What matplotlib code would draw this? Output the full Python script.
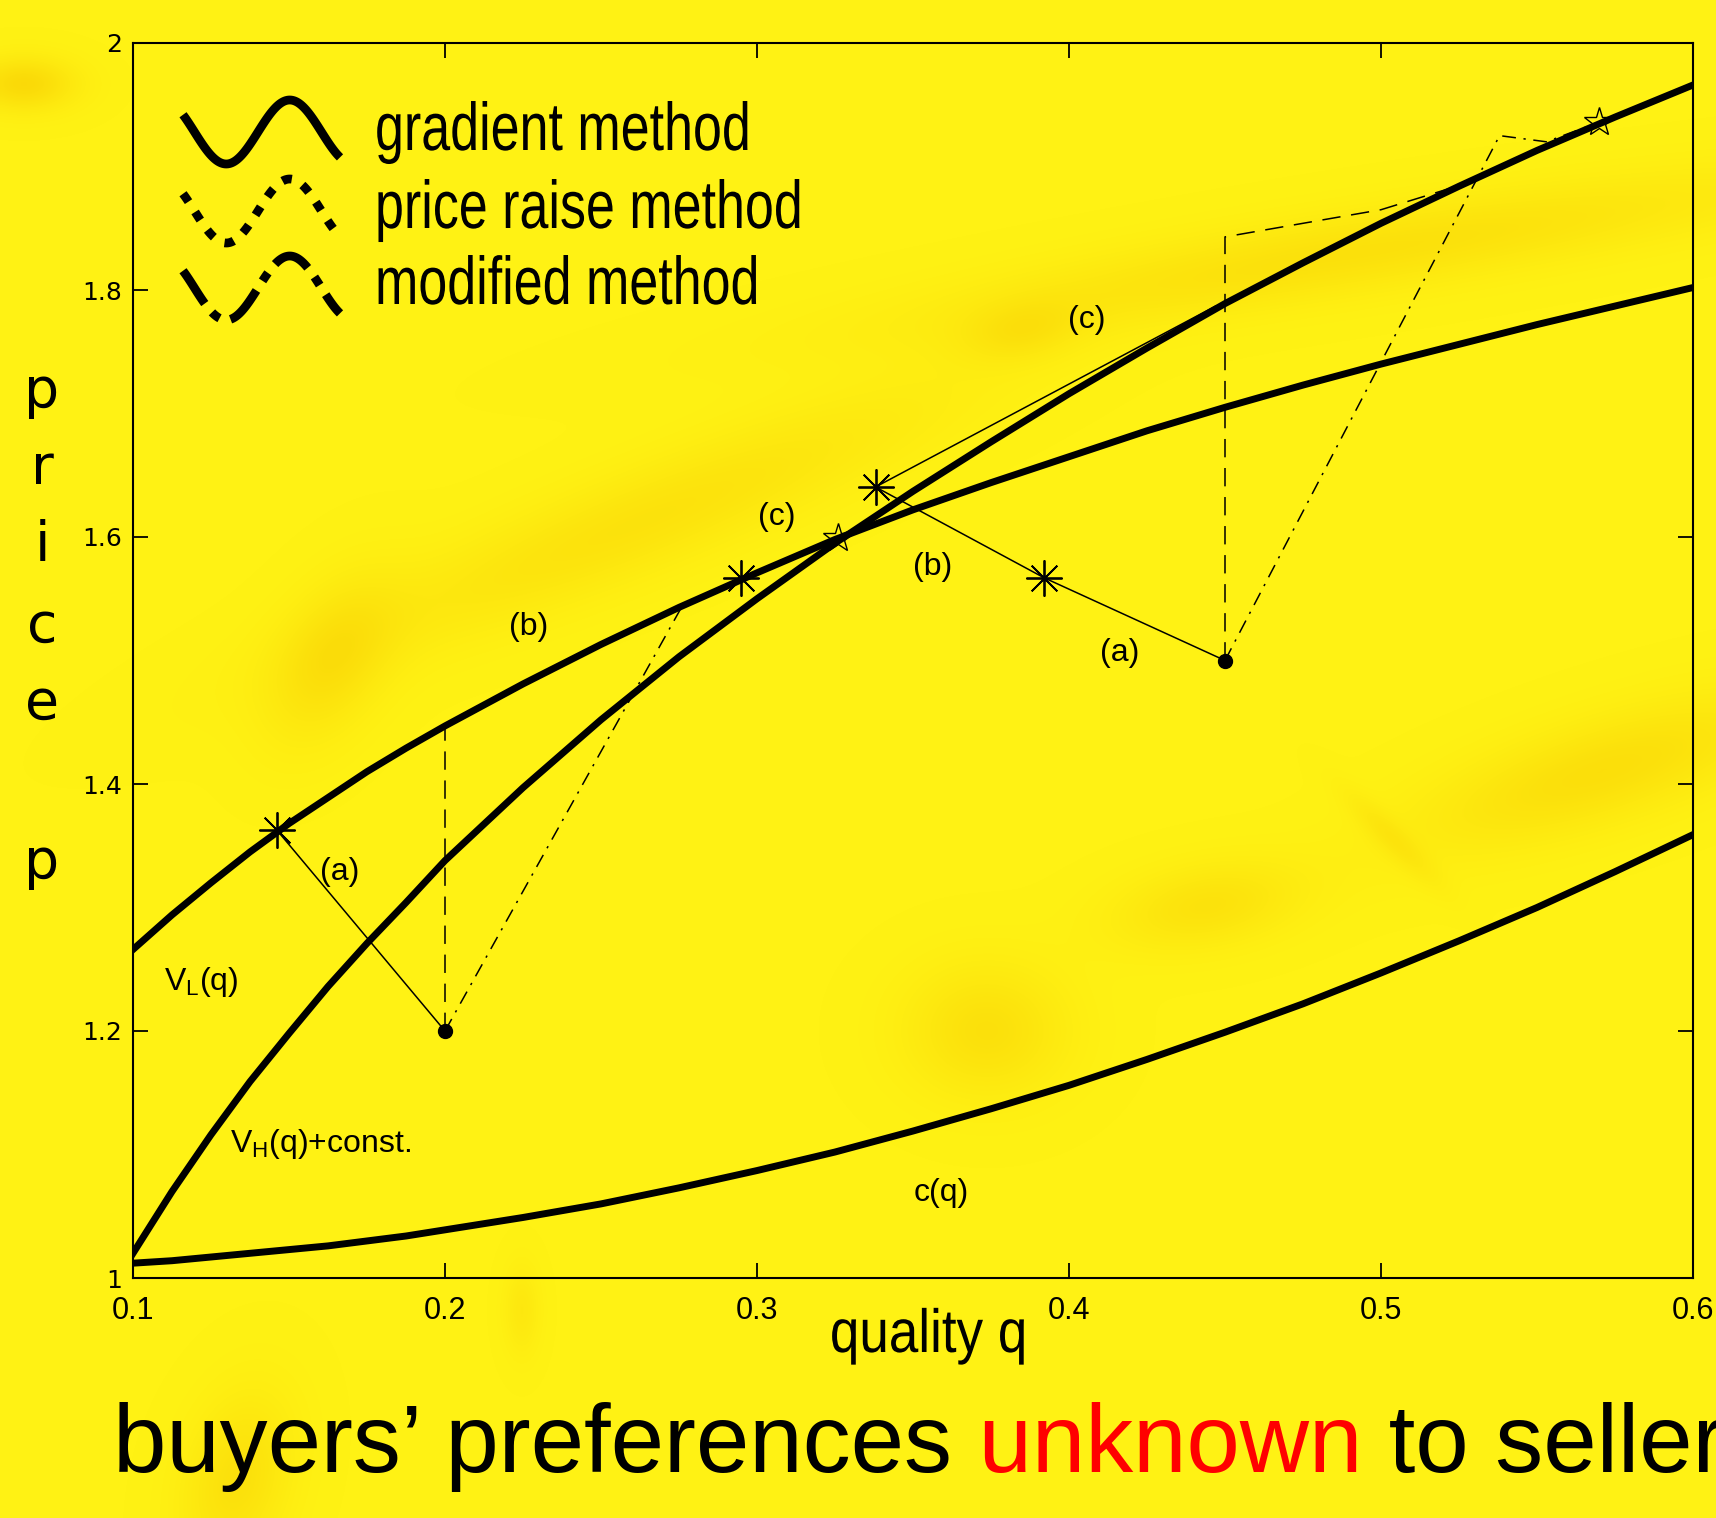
import numpy as np
import matplotlib
matplotlib.use("Agg")
import matplotlib.pyplot as plt
from matplotlib.font_manager import FontProperties
from matplotlib.textpath import TextPath
from matplotlib.patches import PathPatch
from matplotlib.transforms import Affine2D

# quality grid and the three curves
quality = [0.1000, 0.1125, 0.1250, 0.1375, 0.1500, 0.1625, 0.1750, 0.1875, 0.200,
           0.225, 0.250, 0.275, 0.300, 0.325, 0.350, 0.375, 0.400, 0.425, 0.450,
           0.475, 0.500, 0.525, 0.550, 0.575, 0.600]
v_low = [1.266, 1.294, 1.320, 1.345, 1.368, 1.389, 1.410, 1.429, 1.447,
         1.481, 1.513, 1.543, 1.571, 1.598, 1.622, 1.644, 1.665, 1.686, 1.705,
         1.723, 1.740, 1.756, 1.772, 1.787, 1.802]
v_high = [1.020, 1.070, 1.116, 1.159, 1.198, 1.236, 1.271, 1.304, 1.338,
          1.397, 1.452, 1.503, 1.550, 1.595, 1.637, 1.677, 1.716, 1.753, 1.789,
          1.822, 1.854, 1.884, 1.913, 1.940, 1.966]
cost = [1.012, 1.014, 1.017, 1.020, 1.023, 1.026, 1.030, 1.034, 1.039,
        1.049, 1.060, 1.073, 1.087, 1.102, 1.119, 1.137, 1.156, 1.177, 1.199,
        1.222, 1.247, 1.273, 1.300, 1.329, 1.359]

# starting offers (q, p)
starts_q = [0.200, 0.450]
starts_p = [1.200, 1.500]

# gradient method steps (a), (b), (c)
grad_left_q = [0.200, 0.146, 0.295, 0.326]
grad_left_p = [1.200, 1.363, 1.567, 1.599]
grad_right_q = [0.450, 0.392, 0.338, 0.447, 0.570]
grad_right_p = [1.500, 1.567, 1.6405, 1.787, 1.936]

# price raise method
raise_left_q = [0.200, 0.200, 0.326]
raise_left_p = [1.200, 1.447, 1.599]
raise_right_q = [0.450, 0.450, 0.500, 0.523, 0.570]
raise_right_p = [1.500, 1.843, 1.865, 1.883, 1.936]

# modified method
mod_left_q = [0.200, 0.276, 0.326]
mod_left_p = [1.200, 1.544, 1.599]
mod_right_q = [0.450, 0.538, 0.553, 0.570]
mod_right_p = [1.500, 1.925, 1.920, 1.936]

# points where the gradient steps land / the end points
asterisk_q = [0.146, 0.295, 0.392, 0.338]
asterisk_p = [1.363, 1.567, 1.567, 1.6405]
final_q = [0.326, 0.570]
final_p = [1.599, 1.936]

x_ticks = [0.1, 0.2, 0.3, 0.4, 0.5, 0.6]
x_tick_labels = ["0.1", "0.2", "0.3", "0.4", "0.5", "0.6"]
y_ticks = [1.0, 1.2, 1.4, 1.6, 1.8, 2.0]
y_tick_labels = ["1", "1.2", "1.4", "1.6", "1.8", "2"]

legend_labels = ["gradient method", "price raise method", "modified method"]

W, H = 1716, 1518
YELLOW = "#fff214"
BLOB = (0.97, 0.79, 0.0)
SANS = "Liberation Sans"

plt.rcParams["mathtext.fontset"] = "custom"
plt.rcParams["mathtext.rm"] = SANS
plt.rcParams["font.family"] = [SANS, "DejaVu Sans"]


def follow(path_q, path_p, curve, lo, hi):
    """Insert the curve's grid points lying between lo and hi (path runs along the curve)."""
    qs, ps = [], []
    for q, p in zip(path_q, path_p):
        qs.append(q)
        ps.append(p)
        if abs(q - lo) < 1e-9 and abs(p - np.interp(lo, quality, curve)) < 0.02:
            for gq, gp in zip(quality, curve):
                if lo < gq < hi:
                    qs.append(gq)
                    ps.append(gp)
    return qs, ps


def tall_text(axis, x, y, s, size, sy, ha="left"):
    # text as an outline so it can be stretched vertically
    tp = TextPath((0, 0), s, size=size, prop=FontProperties(family=SANS))
    bb = tp.get_extents()
    dx = 0 if ha == "left" else -(bb.x0 + bb.width / 2)
    tr = Affine2D().translate(dx, 0).scale(1, -sy).translate(x, y) + axis.transData
    axis.add_patch(PathPatch(tp, transform=tr, facecolor="black", edgecolor="none"))


fig = plt.figure(figsize=(W / 100, H / 100), dpi=100, facecolor=YELLOW)

# page layer in pixel coordinates: background smudges, legend, big captions
page = fig.add_axes([0, 0, 1, 1], zorder=0)
page.set_xlim(0, W)
page.set_ylim(H, 0)
page.axis("off")

blobs = [
    (22, 82, 35, 18, 0, 0.7),
    (330, 660, 60, 35, -60, 0.5),
    (640, 520, 220, 35, -22, 0.45),
    (1360, 250, 300, 28, -9, 0.5),
    (1020, 330, 40, 20, -10, 0.35),
    (1600, 770, 130, 35, -18, 0.55),
    (985, 1030, 55, 45, 0, 0.5),
    (1205, 905, 65, 28, -10, 0.45),
    (1390, 837, 45, 10, 45, 0.3),
    (520, 1310, 12, 30, 0, 0.3),
    (235, 1480, 35, 60, 15, 0.5),
]
gy, gx = np.mgrid[0:H:4, 0:W:4].astype(float)
shade = np.zeros_like(gx)
for cx, cy, sl, ss, ang, k in blobs:
    a = np.deg2rad(ang)
    u = (gx - cx) * np.cos(a) + (gy - cy) * np.sin(a)
    v = -(gx - cx) * np.sin(a) + (gy - cy) * np.cos(a)
    shade += k * np.exp(-(u ** 2 / (2 * sl ** 2) + v ** 2 / (2 * ss ** 2)))
rgba = np.zeros(shade.shape + (4,))
rgba[..., :3] = BLOB
rgba[..., 3] = np.clip(shade, 0, 1) * 0.85
page.imshow(rgba, extent=[0, W, H, 0], interpolation="bilinear", aspect="auto")

# main axes
ax = fig.add_axes([133 / W, 1 - 1278 / H, 1560 / W, 1235 / H], zorder=1)
ax.set_facecolor("none")
ax.set_xlim(0.1, 0.6)
ax.set_ylim(1.0, 2.0)

ax.plot(quality, v_low, color="black", lw=5, solid_joinstyle="round", zorder=2)
ax.plot(quality, v_high, color="black", lw=5, solid_joinstyle="round", zorder=2)
ax.plot(quality, cost, color="black", lw=5, solid_joinstyle="round", zorder=2)

thin = dict(color="black", lw=1.1, zorder=3)
q, p = follow(grad_left_q, grad_left_p, v_low, 0.146, 0.295)
ax.plot(q, p, "-", **thin)
q, p = follow(grad_right_q, grad_right_p, v_high, 0.447, 0.570)
ax.plot(q, p, "-", **thin)
q, p = follow(raise_left_q, raise_left_p, v_low, 0.200, 0.326)
ax.plot(q, p, linestyle=(0, (12, 7)), **thin)
q, p = follow(raise_right_q, raise_right_p, v_high, 0.523, 0.570)
ax.plot(q, p, linestyle=(0, (12, 7)), **thin)
q, p = follow(mod_left_q, mod_left_p, v_low, 0.276, 0.326)
ax.plot(q, p, linestyle=(0, (9, 5, 1.5, 5)), **thin)
ax.plot(mod_right_q, mod_right_p, linestyle=(0, (9, 5, 1.5, 5)), **thin)

ax.plot(asterisk_q, asterisk_p, linestyle="none", marker=(8, 2, 0), ms=26,
        mew=1.3, color="black", zorder=4)
ax.plot(final_q, final_p, linestyle="none", marker="*", ms=22, mfc="none",
        mec="black", mew=1.0, zorder=4)
ax.plot(starts_q, starts_p, linestyle="none", marker="o", ms=10, color="black", zorder=4)

lab = dict(fontsize=23, family=SANS, ha="center", va="center", zorder=5)
ax.text(0.4057, 1.776, "(c)", **lab)
ax.text(0.3064, 1.6165, "(c)", **lab)
ax.text(0.3562, 1.576, "(b)", **lab)
ax.text(0.2268, 1.527, "(b)", **lab)
ax.text(0.4161, 1.5057, "(a)", **lab)
ax.text(0.1661, 1.3286, "(a)", **lab)
ax.text(0.359, 1.069, "c(q)", **lab)
ax.text(0.110, 1.233, r"V$_\mathrm{L}$(q)", fontsize=23, family=SANS, ha="left",
        va="baseline")
ax.text(0.131, 1.102, r"V$_\mathrm{H}$(q)+const.", fontsize=23, family=SANS,
        ha="left", va="baseline")

ax.set_xticks(x_ticks)
ax.set_xticklabels(x_tick_labels)
ax.set_yticks(y_ticks)
ax.set_yticklabels(y_tick_labels)
ax.tick_params(direction="in", length=11, width=1.3, top=True, right=True)
ax.tick_params(axis="x", pad=13)
ax.tick_params(axis="y", pad=8)
for t in ax.get_xticklabels():
    t.set_family(SANS)
    t.set_fontsize(22)
for t in ax.get_yticklabels():
    t.set_family("DejaVu Sans")
    t.set_fontsize(18)
for s in ax.spines.values():
    s.set_linewidth(1.5)

# hand-drawn style legend: wavy icons and labels
xs = np.linspace(183, 340, 120)
wave = -32 * np.sin(2 * np.pi * (xs - 258) / 127)
page.plot(xs, 132 + wave, color="black", lw=6.3, solid_capstyle="butt")
page.plot(xs, 211 + wave, color="black", lw=6.3, linestyle=(0, (1.1, 1.4)),
          dash_capstyle="butt")
page.plot(xs, 288 + wave, color="black", lw=6.3, linestyle=(0, (4.5, 1.3, 1.1, 1.3)),
          dash_capstyle="butt")
for label, base in zip(legend_labels, [150, 228, 304]):
    tall_text(page, 375, base, label, 52, 1.3)

# axis titles
tall_text(page, 928, 1352, "quality q", 53, 1.15, ha="center")
for letter, base in zip("pricep", [407, 484, 561, 642, 719, 878]):
    page.text(42, base, letter, fontsize=40, family="DejaVu Sans",
              ha="center", va="baseline")

# caption with the highlighted word
renderer = fig.canvas.get_renderer()
x0 = 113
for piece, colour in [("buyers\u2019 preferences", "black"), (" unknown", "red"),
                      (" to seller", "black")]:
    t = page.text(x0, 1472, piece, fontsize=69, family=SANS, color=colour,
                  ha="left", va="baseline")
    bb = t.get_window_extent(renderer)
    x0 = x0 + bb.width

fig.savefig("out.png", dpi=100, facecolor=YELLOW)
